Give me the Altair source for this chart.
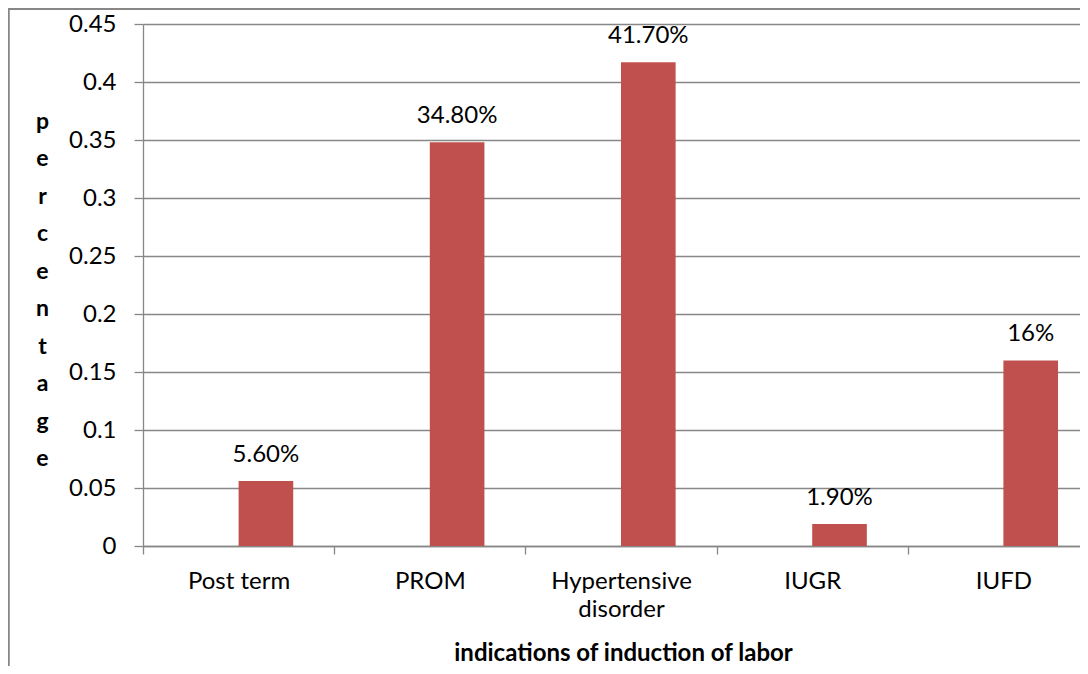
import altair as alt
import pandas as pd

categories = ["Post term", "PROM", "Hypertensive disorder", "IUGR", "IUFD"]
values = [0.056, 0.348, 0.417, 0.019, 0.16]
value_labels = ["5.60%", "34.80%", "41.70%", "1.90%", "16%"]
y_ticks = [0, 0.05, 0.1, 0.15, 0.2, 0.25, 0.3, 0.35, 0.4, 0.45]
series_domain = ["blank", "value"]
y_title_letters = list("percentage")
x_title = "indications of induction of labor"

df = pd.DataFrame({
    "cat": categories,
    "val": values,
    "label": value_labels,
    "series": ["value"] * len(categories),
})

GRAY = "#878787"
FONT = "Lato"

x_enc = alt.X(
    "cat:N",
    sort=categories,
    scale=alt.Scale(paddingInner=0, paddingOuter=0),
    axis=alt.Axis(
        title=x_title,
        titleFont=FONT,
        titleFontSize=24,
        titleFontWeight="bold",
        titleColor="black",
        titleBaseline="alphabetic",
        titleX=480,
        titleY=114,
        labelAngle=0,
        labelFont=FONT,
        labelFontSize=24,
        labelColor="black",
        labelBaseline="alphabetic",
        labelPadding=34,
        labelLineHeight=28,
        labelExpr="datum.label == 'Hypertensive disorder' ? ['Hypertensive', 'disorder'] : datum.label",
        ticks=True,
        tickBand="extent",
        tickSize=8,
        tickColor=GRAY,
        tickWidth=1.3,
        domainColor=GRAY,
        domainWidth=1.3,
        grid=False,
    ),
)
xoff_enc = alt.XOffset(
    "series:N",
    scale=alt.Scale(domain=series_domain, paddingInner=0, paddingOuter=0.75),
)
y_enc = alt.Y(
    "val:Q",
    scale=alt.Scale(domain=[0, 0.45], nice=False, zero=True),
    axis=alt.Axis(
        values=y_ticks,
        format=".2~f",
        title=y_title_letters,
        titleAngle=0,
        titleFont=FONT,
        titleFontSize=23,
        titleFontWeight="bold",
        titleColor="black",
        titleLineHeight=37.5,
        titleAlign="center",
        titleBaseline="middle",
        titleX=-101,
        titleY=97,
        labelFont=FONT,
        labelFontSize=24,
        labelColor="black",
        labelPadding=18,
        tickSize=9,
        tickColor=GRAY,
        tickWidth=1.3,
        domainColor=GRAY,
        domainWidth=1.3,
        grid=True,
        gridColor=GRAY,
        gridWidth=1.3,
    ),
)

base = alt.Chart(df)

bars = base.mark_bar(color="#C0504D").encode(x=x_enc, xOffset=xoff_enc, y=y_enc)

texts = base.mark_text(
    baseline="alphabetic", dy=-19, font=FONT, fontSize=24, color="black"
).encode(x=x_enc, xOffset=xoff_enc, y=y_enc, text="label:N")

border_left = base.mark_rule(color=GRAY, strokeWidth=1.5).encode(
    x=alt.value(-134.5), y=alt.value(-16), y2=alt.value(642)
)
border_top = base.mark_rule(color=GRAY, strokeWidth=1.5).encode(
    x=alt.value(-135), x2=alt.value(960), y=alt.value(-15)
)

chart = (
    alt.layer(bars, texts, border_left, border_top)
    .properties(
        width=956,
        height=522,
        padding={"left": 135, "top": 16, "right": -19, "bottom": 120},
        autosize=alt.AutoSizeParams(type="none"),
    )
    .configure_view(stroke=None)
    .configure(font=FONT)
)

chart.save("out.html", embed_options={"renderer": "svg", "actions": False})
